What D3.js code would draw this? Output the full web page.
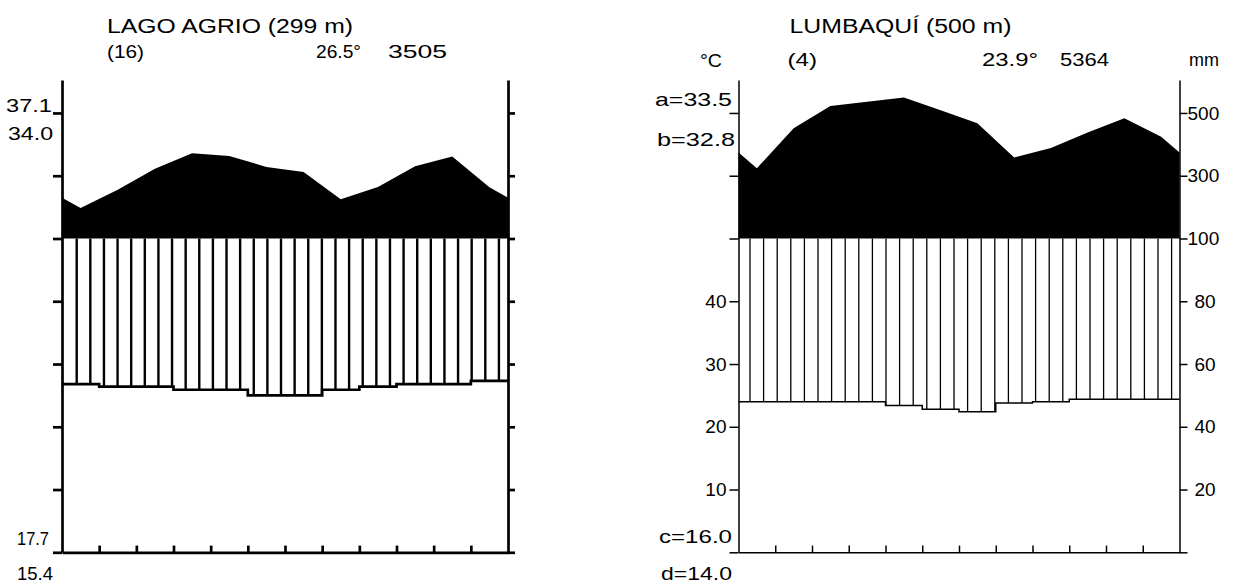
<!DOCTYPE html>
<html><head><meta charset="utf-8">
<script src="https://cdn.jsdelivr.net/npm/d3@7"></script>
<style>
html,body{margin:0;padding:0;background:#fff;}
svg{display:block;font-family:"Liberation Sans",Arial,sans-serif;}
</style></head><body>
<svg id="chart" width="1235" height="585"></svg>
<script>
// ---------- DATA ----------
const months = ["Jan","Feb","Mar","Apr","May","Jun","Jul","Aug","Sep","Oct","Nov","Dec"];

// Lago Agrio
const lagoTitle = "LAGO AGRIO (299 m)";
const lagoYears = "(16)";
const lagoMeanTemp = "26.5°";
const lagoAnnualPrecip = "3505";
const lagoTemp = [26.8, 26.4, 26.4, 25.9, 25.9, 25.0, 25.0, 25.9, 26.4, 26.8, 26.8, 27.3];
const lagoPrecip = [197, 255, 322, 372, 363, 328, 312, 225, 264, 330, 361, 263];
const lagoSideLabels = ["37.1", "34.0", "17.7", "15.4"];

// Lumbaquí
const lumbTitle = "LUMBAQUÍ (500 m)";
const lumbYears = "(4)";
const lumbMeanTemp = "23.9°";
const lumbAnnualPrecip = "5364";
const lumbTemp = [24.0, 24.0, 24.0, 24.0, 23.4, 22.8, 22.4, 23.8, 24.0, 24.4, 24.4, 24.4];
const lumbPrecip = [324, 451, 522, 536, 549, 509, 467, 358, 388, 438, 483, 424];
const lumbSideLabels = ["a=33.5", "b=32.8", "c=16.0", "d=14.0"];

const unitTemp = "°C";
const unitPrecip = "mm";
const axisTicksMm = [0, 20, 40, 60, 80, 100, 300, 500];
const tempTickLabels = [10, 20, 30, 40];
const precipTickLabels = [20, 40, 60, 80, 100, 300, 500];

// ---------- LAYOUT ----------
const Y0 = 552.3, Y100 = 238.5, YTOP = 80;
const yP = d3.scaleLinear().domain([0, 100, 605]).range([Y0, Y100, YTOP]);
const yT = d3.scaleLinear().domain([0, 50]).range([Y0, Y100]);

const svg = d3.select("#chart");

function txt(g, s, x, y, size, len, anchor) {
  const t = g.append("text").attr("x", x).attr("y", y).attr("font-size", size)
    .attr("text-anchor", anchor || "start").attr("fill", "#000").text(s);
  if (len) t.attr("textLength", len).attr("lengthAdjust", "spacingAndGlyphs");
  return t;
}

function panel(cfg) {
  const g = svg.append("g");
  const x = d3.scaleLinear().domain([0, 12]).range([cfg.x0, cfg.x1]);
  const temp = cfg.temp, precip = cfg.precip;

  // precipitation > 100 mm (black)
  const edgeP = (precip[0] + precip[11]) / 2;
  const pPts = [{m: 0, v: edgeP}, ...precip.map((v, i) => ({m: i + 0.5, v})), {m: 12, v: edgeP}];
  g.append("path").datum(pPts)
    .attr("d", d3.area().x(d => x(d.m)).y0(yP(100)).y1(d => yP(d.v)))
    .attr("fill", "#000");

  // humid period hatching
  const hatchX = d3.range(cfg.hatchCount).map(k => cfg.x0 + cfg.hatchStart + k * cfg.hatchStep)
    .filter(v => v < cfg.x1);
  g.selectAll("line.hatch").data(hatchX).join("line").attr("class", "hatch")
    .attr("x1", d => d).attr("x2", d => d)
    .attr("y1", d => yT(temp[Math.min(11, Math.floor(x.invert(d)))]))
    .attr("y2", yP(100))
    .attr("stroke", "#000").attr("stroke-width", cfg.hw);

  // temperature line
  const tPts = temp.map((v, i) => ({m: i, v})).concat([{m: 12, v: temp[11]}]);
  g.append("path").datum(tPts)
    .attr("d", d3.line().curve(d3.curveStepAfter).x(d => x(d.m)).y(d => yT(d.v)))
    .attr("fill", "none").attr("stroke", "#000").attr("stroke-width", cfg.sw);

  // axes
  const la = g.append("g").attr("transform", `translate(${cfg.x0},0)`)
    .call(d3.axisLeft(yP).tickValues(axisTicksMm).tickSize(cfg.tickL).tickSizeOuter(0)
      .tickPadding(3).tickFormat(cfg.leftFmt));
  const ra = g.append("g").attr("transform", `translate(${cfg.x1},0)`)
    .call(d3.axisRight(yP).tickValues(axisTicksMm).tickSize(cfg.tickR).tickSizeOuter(0)
      .tickPadding(0).tickFormat(cfg.rightFmt));
  const ba = g.append("g").attr("transform", `translate(0,${Y0})`)
    .call(d3.axisBottom(x).tickValues(d3.range(1, 12)).tickSize(-cfg.tickB).tickSizeOuter(0)
      .tickFormat(""));
  [la, ra, ba].forEach(a => {
    a.attr("font-family", null).attr("font-size", cfg.fs);
    a.selectAll(".domain, .tick line").attr("stroke", "#000").attr("stroke-width", cfg.sw);
    a.selectAll("text").attr("fill", "#000");
  });
  ra.selectAll(".tick text").attr("x", d => cfg.tickR + (d < 100 ? 7 : 0));

  // texts
  cfg.texts.forEach(t => txt(g, t.s, t.x, t.y, t.size || cfg.fs, t.len, t.anchor));
}

panel({
  x0: 62, x1: 508, temp: lagoTemp, precip: lagoPrecip,
  hatchStart: 14.7, hatchStep: 13.62, hatchCount: 32,
  sw: 2.7, hw: 2.4, tickL: 9, tickR: 7, tickB: 6.7, fs: 19,
  leftFmt: () => "", rightFmt: () => "",
  texts: [
    {s: lagoTitle, x: 107, y: 33, size: 20, len: 246},
    {s: lagoYears, x: 107, y: 58, size: 19, len: 37},
    {s: lagoMeanTemp, x: 316, y: 58, size: 19, len: 45},
    {s: lagoAnnualPrecip, x: 388, y: 58, size: 19, len: 59},
    {s: lagoSideLabels[0], x: 52, y: 112, size: 18, len: 46, anchor: "end"},
    {s: lagoSideLabels[1], x: 53, y: 140, size: 18, len: 45, anchor: "end"},
    {s: lagoSideLabels[2], x: 17, y: 545, size: 18, len: 32},
    {s: lagoSideLabels[3], x: 17, y: 580, size: 18, len: 36}
  ]
});

panel({
  x0: 738.5, x1: 1179.5, temp: lumbTemp, precip: lumbPrecip,
  hatchStart: 11.5, hatchStep: 13.6, hatchCount: 32,
  sw: 1.5, hw: 1.3, tickL: 9, tickR: 8, tickB: 6.7, fs: 19,
  leftFmt: d => (d > 0 && d <= 80 && tempTickLabels.includes(d / 2)) ? String(d / 2) : "",
  rightFmt: d => precipTickLabels.includes(d) ? String(d) : "",
  texts: [
    {s: lumbTitle, x: 789.5, y: 33, size: 20, len: 222},
    {s: unitTemp, x: 700, y: 67, size: 19, len: 22},
    {s: lumbYears, x: 787.5, y: 66, size: 19, len: 29.5},
    {s: lumbMeanTemp, x: 982, y: 66, size: 19, len: 56},
    {s: lumbAnnualPrecip, x: 1060, y: 66, size: 19, len: 49},
    {s: unitPrecip, x: 1189, y: 66, size: 19, len: 30},
    {s: lumbSideLabels[0], x: 655, y: 106, size: 19, len: 77},
    {s: lumbSideLabels[1], x: 657, y: 146, size: 19, len: 78},
    {s: lumbSideLabels[2], x: 659, y: 543, size: 19, len: 73},
    {s: lumbSideLabels[3], x: 661, y: 580, size: 19, len: 71}
  ]
});
</script>
</body></html>
